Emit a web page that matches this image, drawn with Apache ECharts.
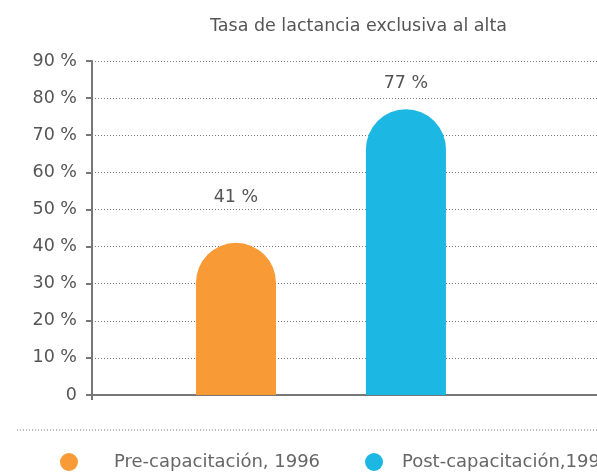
<!DOCTYPE html>
<html lang="es">
  <head>
    <meta charset="UTF-8" />
    <title>Tasa de lactancia exclusiva al alta</title>
    <script src="https://cdn.jsdelivr.net/npm/echarts@6/dist/echarts.min.js"></script>
    <style>
      html, body { margin: 0; padding: 0; background: #fff; }
      .echarts { width: 597px; height: 473px; }
    </style>
  </head>
  <body>
    <div class="echarts"></div>
    <script>
      // datos
      const seriesNames = ['Pre-capacitación, 1996', 'Post-capacitación,1998']
      const positions = [1, 2]
      const values = [41, 77]
      const colors = ['#F89A36', '#1CB8E3']
      const yTicks = [0, 10, 20, 30, 40, 50, 60, 70, 80, 90]

      const font = '"DejaVu Sans", sans-serif'
      const myCharts = echarts.init(document.querySelector('.echarts'))

      const option = {
        animation: false,
        title: {
          text: 'Tasa de lactancia exclusiva al alta',
          left: 205,
          top: 12,
          textStyle: { color: '#555', fontSize: 17.5, fontWeight: 'normal', fontFamily: font }
        },
        grid: { left: 92, right: 0, top: 61, bottom: 78 },
        legend: seriesNames.map((name, i) => ({
          data: [name],
          left: i === 0 ? 55 : 360,
          top: 448,
          icon: 'circle',
          itemWidth: 18,
          itemHeight: 18,
          textStyle: {
            color: '#666', fontSize: 18, fontFamily: font,
            padding: [0, 0, 0, i === 0 ? 31 : 14]
          }
        })),
        xAxis: {
          type: 'value',
          min: 0.153,
          max: 3.124,
          axisLabel: { show: false },
          splitLine: { show: false },
          axisTick: { show: true, customValues: [0.153], length: 5, lineStyle: { color: '#777', width: 2 } },
          axisLine: { show: true, onZero: false, lineStyle: { color: '#777', width: 2 } }
        },
        yAxis: {
          type: 'value',
          min: yTicks[0],
          max: yTicks[yTicks.length - 1],
          interval: 10,
          axisLine: { show: true, lineStyle: { color: '#777', width: 2 } },
          axisTick: { show: true, length: 6, lineStyle: { color: '#777', width: 2 } },
          axisLabel: {
            margin: 15,
            color: '#555',
            fontSize: 17.5,
            fontFamily: font,
            formatter: v => v === 0 ? '0' : v + ' %'
          },
          splitLine: { show: true, lineStyle: { color: '#777', width: 1, type: [1, 2] } }
        },
        graphic: [{
          type: 'line',
          shape: { x1: 17, y1: 430, x2: 597, y2: 430 },
          style: { stroke: '#777', lineWidth: 1, lineDash: [1, 2] }
        }],
        series: seriesNames.map((name, i) => ({
          name: name,
          type: 'bar',
          barWidth: 80,
          barGap: '-100%',
          color: colors[i],
          itemStyle: { borderRadius: [40, 40, 0, 0] },
          label: {
            show: true,
            position: 'top',
            distance: i === 0 ? 36 : 17,
            color: '#555',
            fontSize: 17.5,
            fontFamily: font,
            formatter: p => p.value[1] + ' %'
          },
          data: [[positions[i], values[i]]]
        }))
      }
      myCharts.setOption(option)
    </script>
  </body>
</html>
